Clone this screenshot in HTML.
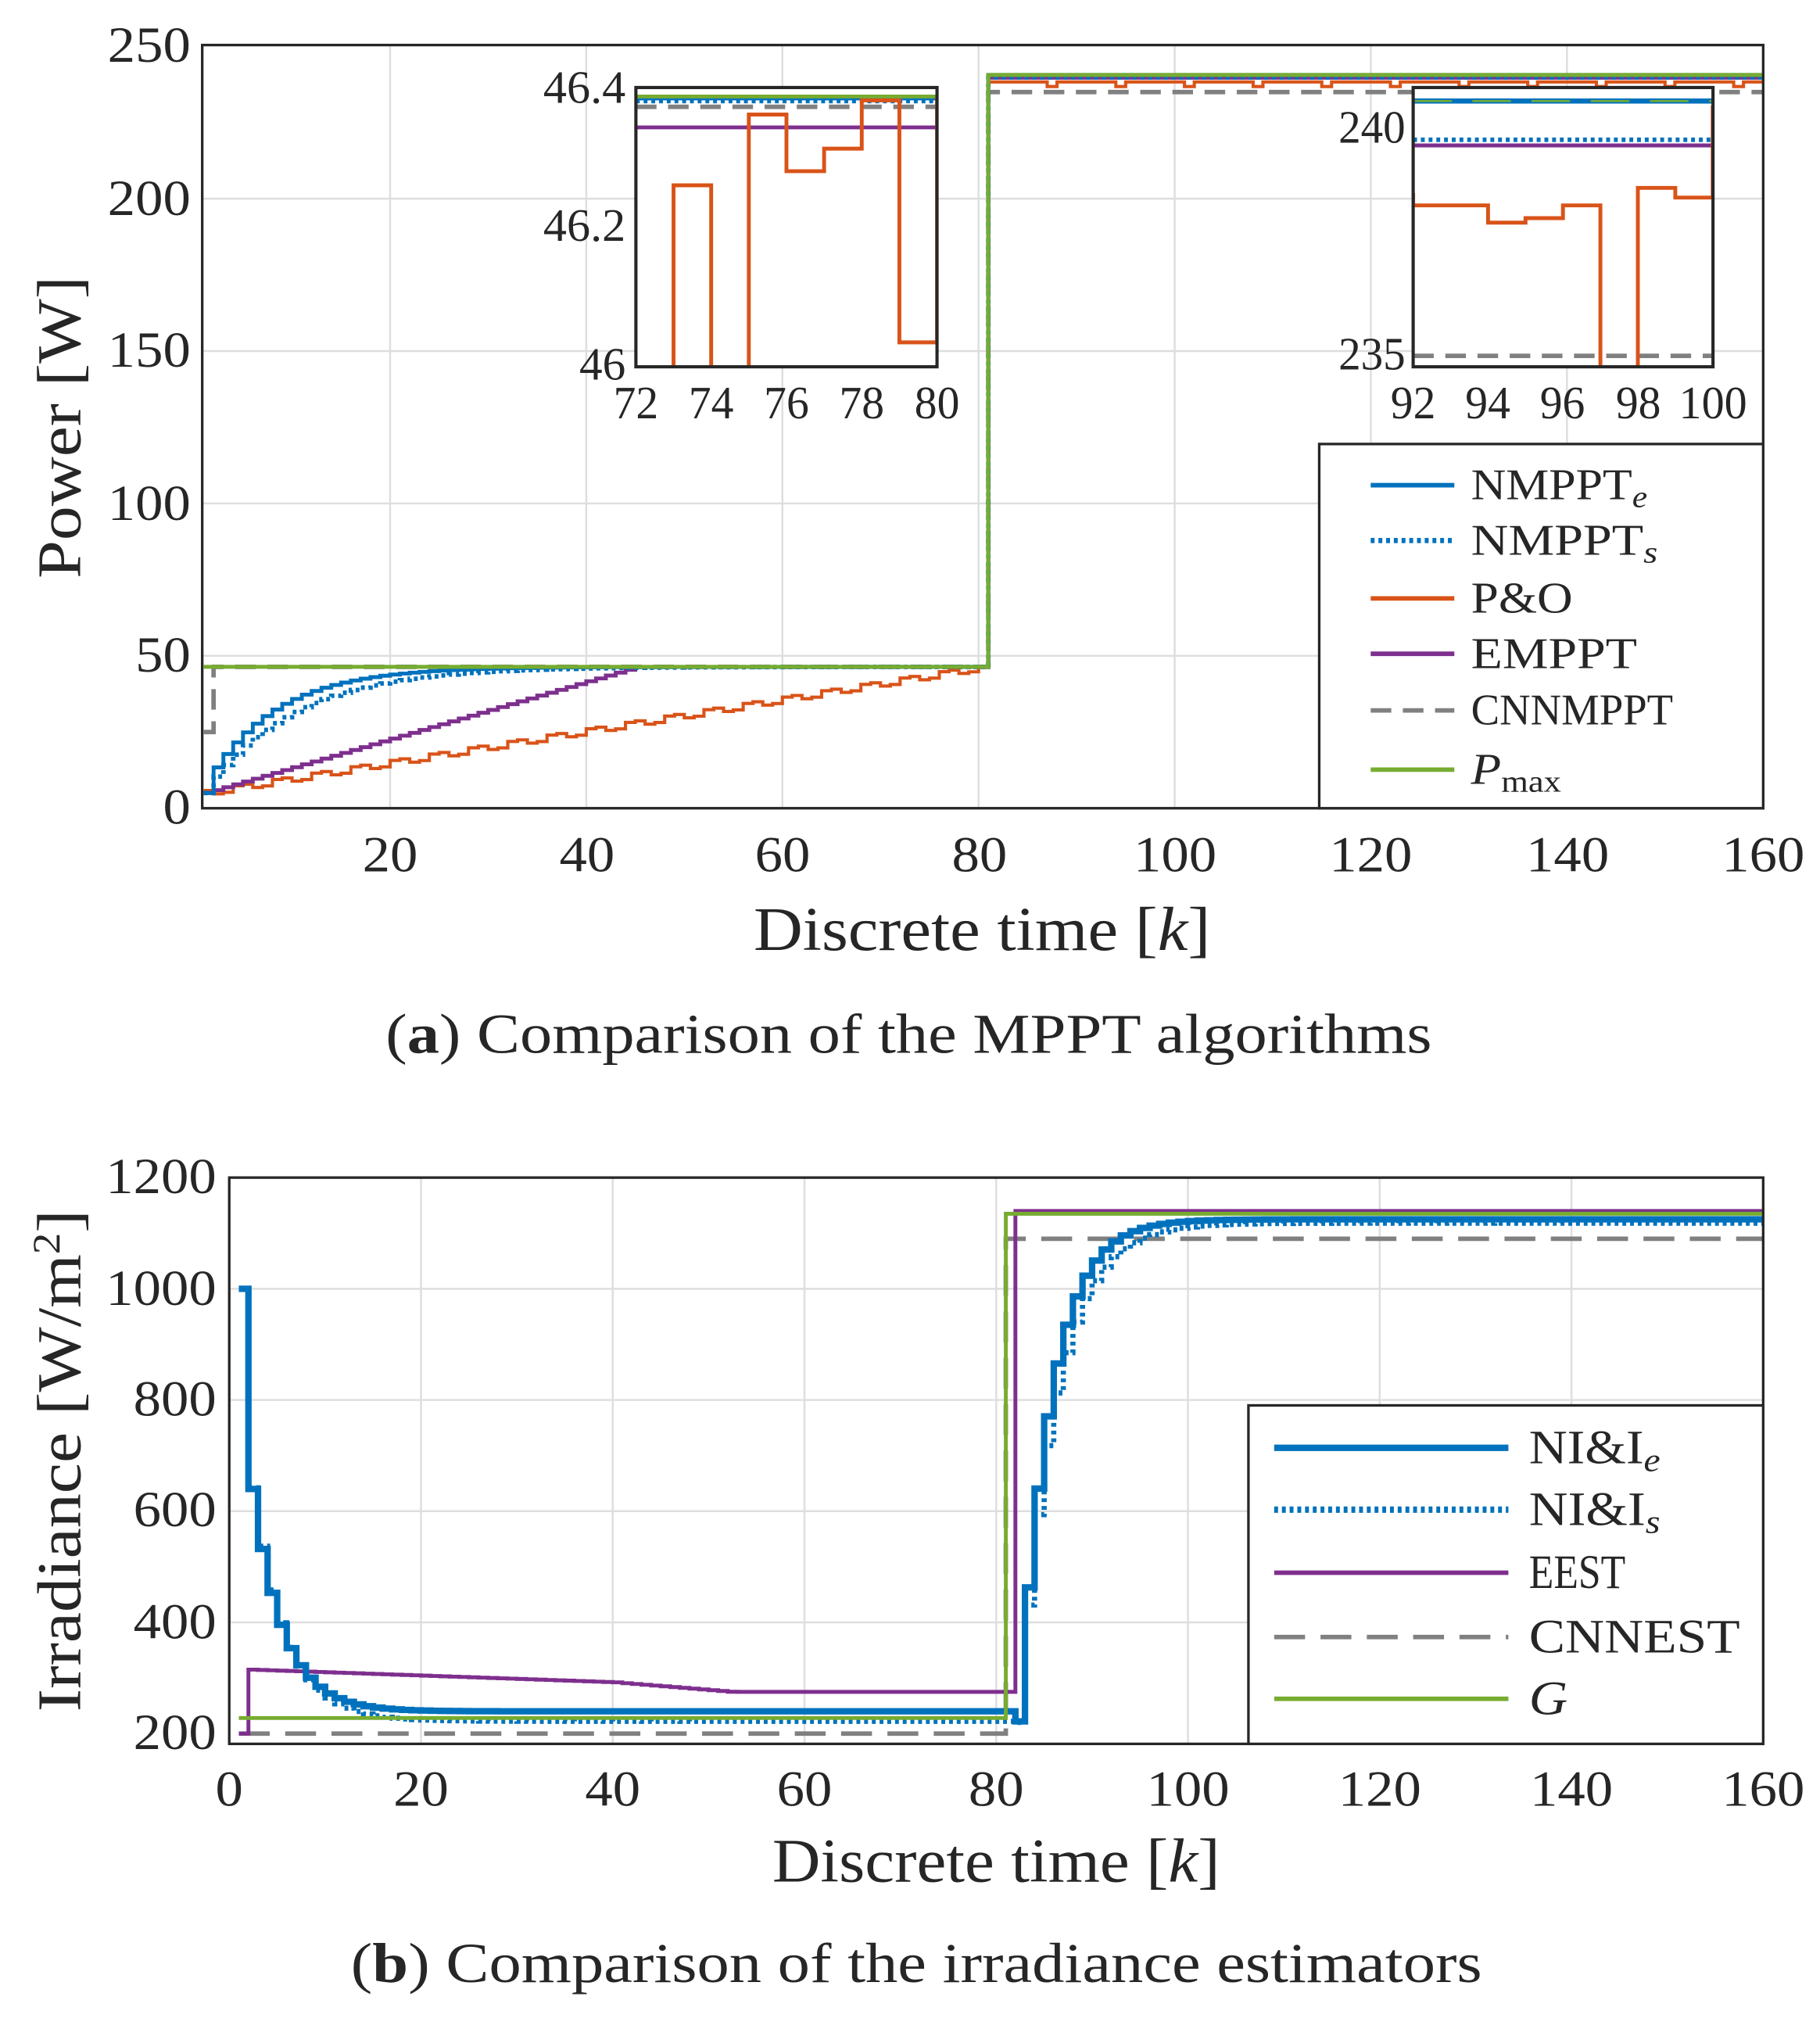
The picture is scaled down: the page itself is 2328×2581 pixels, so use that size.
<!DOCTYPE html>
<html><head><meta charset="utf-8">
<style>
html,body{margin:0;padding:0;background:#fff;}
svg{display:block;}
text{font-family:"Liberation Serif",serif;fill:#262626;}
</style></head>
<body>
<svg id="s" width="2328" height="2581" viewBox="0 0 1414 1568" xmlns="http://www.w3.org/2000/svg">
<defs>
<clipPath id="c1"><rect x="157" y="35" width="1213" height="593"/></clipPath>
<clipPath id="c2"><rect x="178" y="915" width="1192" height="440"/></clipPath>
<clipPath id="ci1"><rect x="494" y="68" width="234" height="217"/></clipPath>
<clipPath id="ci2"><rect x="1098" y="68" width="233" height="217"/></clipPath>
</defs>
<g id="g"></g>
<g id="t"></g>
</svg>
<script>
const NS="http://www.w3.org/2000/svg",G=document.getElementById('g'),T=document.getElementById('t');
function el(t,a,p){const e=document.createElementNS(NS,t);for(const k in a)e.setAttribute(k,a[k]);(p||G).appendChild(e);return e;}
const BLUE="#0072BD",ORG="#D95319",PUR="#7E2F8E",GRAY="#808080",GRN="#77AC30";
function step(pts){let d="M"+pts[0][0]+","+pts[0][1];for(let i=1;i<pts.length;i++){d+="H"+pts[i][0]+"V"+pts[i][1];}return d;}
// text helper: x,y,anchor,len,size,html
function tx(x,y,anc,len,size,html,extra){const e=el('text',Object.assign({x:x,y:y,'text-anchor':anc,'font-size':size,textLength:len,lengthAdjust:'spacingAndGlyphs'},extra||{}),T);e.innerHTML=html;return e;}
// ---------- top
const X1=k=>158.2+(k-1)*7.621,Y1=v=>628-v*2.368;
for(const k of [20,40,60,80,100,120,140])el('line',{x1:X1(k),x2:X1(k),y1:35,y2:628,stroke:'#dedede','stroke-width':1.5});
for(const v of [50,100,150,200])el('line',{x1:157,x2:1370,y1:Y1(v),y2:Y1(v),stroke:'#dedede','stroke-width':1.5});
const g1=el('g',{'clip-path':'url(#c1)'});
function series(f,a,b){const p=[];for(let k=a;k<=b;k++)p.push([X1(k),Y1(f(k))]);return p;}
let ne=series(k=>k<=80?(k==1?5:46.39-33*Math.exp(-(k-2)/7)):240.6,1,161);
let ns=series(k=>k<=80?(k==1?5:46.38-36*Math.exp(-(k-2)/9)):239.8,1,161);
let po=series(k=>k<=80?Math.min(46.3,5+(k-1)*0.52+((k%4<2)?0.8:-0.8)):238.3+((k%7==3)?-1.5:0),1,161);
let em=series(k=>k<=80?Math.min(46.35,5+(k-1)*0.94):239.7,1,161);
let cn=series(k=>k<=80?(k==1?25:46.38):235,1,161);
let pm=series(k=>k<=80?46.4:240.6,1,161);
el('path',{d:step(cn),fill:'none',stroke:GRAY,'stroke-width':3.5,'stroke-dasharray':'16,9'},g1);
el('path',{d:step(po),fill:'none',stroke:ORG,'stroke-width':2.5},g1);
el('path',{d:step(em),fill:'none',stroke:PUR,'stroke-width':3},g1);
el('path',{d:step(ns),fill:'none',stroke:BLUE,'stroke-width':3.5,'stroke-dasharray':'3,3'},g1);
el('path',{d:step(ne),fill:'none',stroke:BLUE,'stroke-width':3},g1);
el('path',{d:step(pm),fill:'none',stroke:GRN,'stroke-width':3},g1);
el('rect',{x:157,y:35,width:1213,height:593,fill:'none',stroke:'#262626','stroke-width':2});
// inset 1
const I1=k=>494+(k-72)*29.25;
el('rect',{x:494,y:68,width:234,height:217,fill:'#fff'});
const i1=el('g',{'clip-path':'url(#ci1)'});
el('line',{x1:494,x2:728,y1:83,y2:83,stroke:GRAY,'stroke-width':3.5,'stroke-dasharray':'16,9'},i1);
el('line',{x1:494,x2:728,y1:99,y2:99,stroke:PUR,'stroke-width':3},i1);
el('line',{x1:494,x2:728,y1:78.5,y2:78.5,stroke:BLUE,'stroke-width':3.5,'stroke-dasharray':'3,3'},i1);
el('line',{x1:494,x2:728,y1:76.5,y2:76.5,stroke:BLUE,'stroke-width':3},i1);
el('line',{x1:494,x2:728,y1:75,y2:75,stroke:GRN,'stroke-width':3},i1);
el('path',{d:`M${I1(72)},300H${I1(73)}V144H${I1(74)}V300H${I1(75)}V89H${I1(76)}V133H${I1(77)}V115.5H${I1(78)}V78H${I1(79)}V266H${I1(80)}V76`,fill:'none',stroke:ORG,'stroke-width':3},i1);
el('rect',{x:494,y:68,width:234,height:217,fill:'none',stroke:'#262626','stroke-width':2.5});
// inset 2
const I2=k=>1098+(k-92)*29.1;
el('rect',{x:1098,y:68,width:233,height:217,fill:'#fff'});
const i2=el('g',{'clip-path':'url(#ci2)'});
el('line',{x1:1098,x2:1331,y1:276.5,y2:276.5,stroke:GRAY,'stroke-width':3.5,'stroke-dasharray':'16,9'},i2);
el('line',{x1:1098,x2:1331,y1:113,y2:113,stroke:PUR,'stroke-width':3},i2);
el('line',{x1:1098,x2:1331,y1:108.6,y2:108.6,stroke:BLUE,'stroke-width':3.5,'stroke-dasharray':'3,3'},i2);
el('line',{x1:1098,x2:1331,y1:78.5,y2:78.5,stroke:BLUE,'stroke-width':4},i2);
el('line',{x1:1098,x2:1331,y1:78.5,y2:78.5,stroke:GRN,'stroke-width':1.5,'stroke-dasharray':'30,16'},i2);
el('path',{d:`M${I2(92)},150V159.6H${I2(94)}V173H${I2(95)}V169.5H${I2(96)}V159.6H${I2(97)}V300H${I2(98)}V146H${I2(99)}V153.5H${I2(100)}V82`,fill:'none',stroke:ORG,'stroke-width':3},i2);
el('rect',{x:1098,y:68,width:233,height:217,fill:'none',stroke:'#262626','stroke-width':2.5});
// legend top
el('rect',{x:1025,y:345,width:345,height:283,fill:'#fff',stroke:'#262626','stroke-width':2});
[[377,BLUE,''],[420,BLUE,'3,3'],[465,ORG,''],[508,PUR,''],[552,GRAY,'16,9'],[598,GRN,'']].forEach(r=>el('line',{x1:1065,x2:1130,y1:r[0],y2:r[0],stroke:r[1],'stroke-width':r[2]=='3,3'?4:3.5,'stroke-dasharray':r[2]||'none'}));
// ---------- bottom
const X2=k=>178+k*7.45,Y2=v=>1347-(v-200)*0.432;
for(const k of [20,40,60,80,100,120,140])el('line',{x1:X2(k),x2:X2(k),y1:915,y2:1355,stroke:'#dedede','stroke-width':1.5});
for(const v of [400,600,800,1000])el('line',{x1:178,x2:1370,y1:Y2(v),y2:Y2(v),stroke:'#dedede','stroke-width':1.5});
const g2=el('g',{'clip-path':'url(#c2)'});
function ser2(f,a,b){const p=[];for(let k=a;k<=b;k++)p.push([X2(k),Y2(f(k))]);return p;}
let Ie=ser2(k=>k<=1?1000:(k<=81?240+400*Math.pow(0.73,k-2):(k==82?222:1125-905*Math.exp(-(k-82)/3.2))),1,161);
let Is=ser2(k=>k<=1?1000:(k<=81?222+420*Math.pow(0.75,k-2):(k==82?220:1118-900*Math.exp(-(k-82)/3.7))),1,161);
let ee=ser2(k=>k<2?200:(k<=81?(k<=40?315-(k-2)*0.6:Math.max(275,292-(k-40)*1.4)):1140),1,161);
let cnb=ser2(k=>k<=80?200:1090,1,161);
let gg=ser2(k=>k<=80?228:1135,1,161);
el('path',{d:step(cnb),fill:'none',stroke:GRAY,'stroke-width':3.5,'stroke-dasharray':'24,12'},g2);
el('path',{d:step(ee),fill:'none',stroke:PUR,'stroke-width':3},g2);
el('path',{d:step(Is),fill:'none',stroke:BLUE,'stroke-width':4,'stroke-dasharray':'3,3'},g2);
el('path',{d:step(Ie),fill:'none',stroke:BLUE,'stroke-width':5},g2);
el('path',{d:step(gg),fill:'none',stroke:GRN,'stroke-width':3},g2);
el('rect',{x:178,y:915,width:1192,height:440,fill:'none',stroke:'#262626','stroke-width':2});
el('rect',{x:970,y:1092,width:400,height:263,fill:'#fff',stroke:'#262626','stroke-width':2});
[[1125,BLUE,'',5],[1173,BLUE,'3,3',5],[1222,PUR,'',3.5],[1272,GRAY,'24,12',3.5],[1320,GRN,'',3.5]].forEach(r=>el('line',{x1:990,x2:1172,y1:r[0],y2:r[0],stroke:r[1],'stroke-width':r[3],'stroke-dasharray':r[2]||'none'}));
// ---------- texts
const TS=39,wl=s=>s.length*21.5;
[[250,48],[200,167],[150,285],[100,404],[50,522],[0,640]].forEach(a=>tx(148,a[1],'end',wl(String(a[0])),TS,a[0]));
[[20,303],[40,456],[60,608],[80,761],[100,913],[120,1065],[140,1218],[160,1370]].forEach(a=>tx(a[1],677,'middle',wl(String(a[0])),TS,a[0]));
tx(763,738,'middle',355,48,'Discrete time [<tspan font-style="italic">k</tspan>]');
tx(0,0,'middle',235,48,'Power [W]',{transform:'translate(62,332) rotate(-90)'});
tx(706,818,'middle',813,44,'(<tspan font-weight="bold">a</tspan>) Comparison of the MPPT algorithms');
[[1200,927],[1000,1014],[800,1100],[600,1186],[400,1273],[200,1359]].forEach(a=>tx(168,a[1],'end',wl(String(a[0])),TS,a[0]));
[[0,178],[20,327],[40,476],[60,625],[80,774],[100,923],[120,1072],[140,1221],[160,1370]].forEach(a=>tx(a[1],1403,'middle',wl(String(a[0])),TS,a[0]));
tx(774,1462,'middle',348,48,'Discrete time [<tspan font-style="italic">k</tspan>]');
tx(0,0,'middle',390,48,'Irradiance [W/m<tspan font-size="30" dy="-16">2</tspan><tspan dy="16">]</tspan>',{transform:'translate(62,1135) rotate(-90)'});
tx(712,1540,'middle',879,44,'(<tspan font-weight="bold">b</tspan>) Comparison of the irradiance estimators');
// inset ticks
tx(486,80,'end',64,36,'46.4');tx(486,187,'end',64,36,'46.2');tx(486,295,'end',36,36,'46');
[[72,494],[74,552.5],[76,611],[78,669.5],[80,728]].forEach(a=>tx(a[1],325,'middle',35,36,a[0]));
tx(1092,111,'end',52,36,'240');tx(1092,287,'end',52,36,'235');
[[92,1098],[94,1156],[96,1214],[98,1273],[100,1331]].forEach(a=>tx(a[1],325,'middle',a[0]==100?53:35,36,a[0]));
// legend texts
tx(1143,388,'start',137,34,'NMPPT<tspan font-style="italic" font-size="24" dy="6">e</tspan>');
tx(1143,431,'start',145,34,'NMPPT<tspan font-style="italic" font-size="24" dy="6">s</tspan>');
tx(1143,476,'start',79,34,'P&amp;O');
tx(1143,519,'start',129,34,'EMPPT');
tx(1143,563,'start',157,34,'CNNMPPT');
tx(1143,609,'start',70,34,'<tspan font-style="italic">P</tspan><tspan font-size="24" dy="6">max</tspan>');
tx(1188,1137,'start',102,37,'NI&amp;I<tspan font-style="italic" font-size="26" dy="6">e</tspan>');
tx(1188,1185,'start',102,37,'NI&amp;I<tspan font-style="italic" font-size="26" dy="6">s</tspan>');
tx(1188,1234,'start',75,37,'EEST');
tx(1188,1284,'start',164,37,'CNNEST');
tx(1188,1332,'start',30,37,'<tspan font-style="italic">G</tspan>');
</script>
</body></html>
